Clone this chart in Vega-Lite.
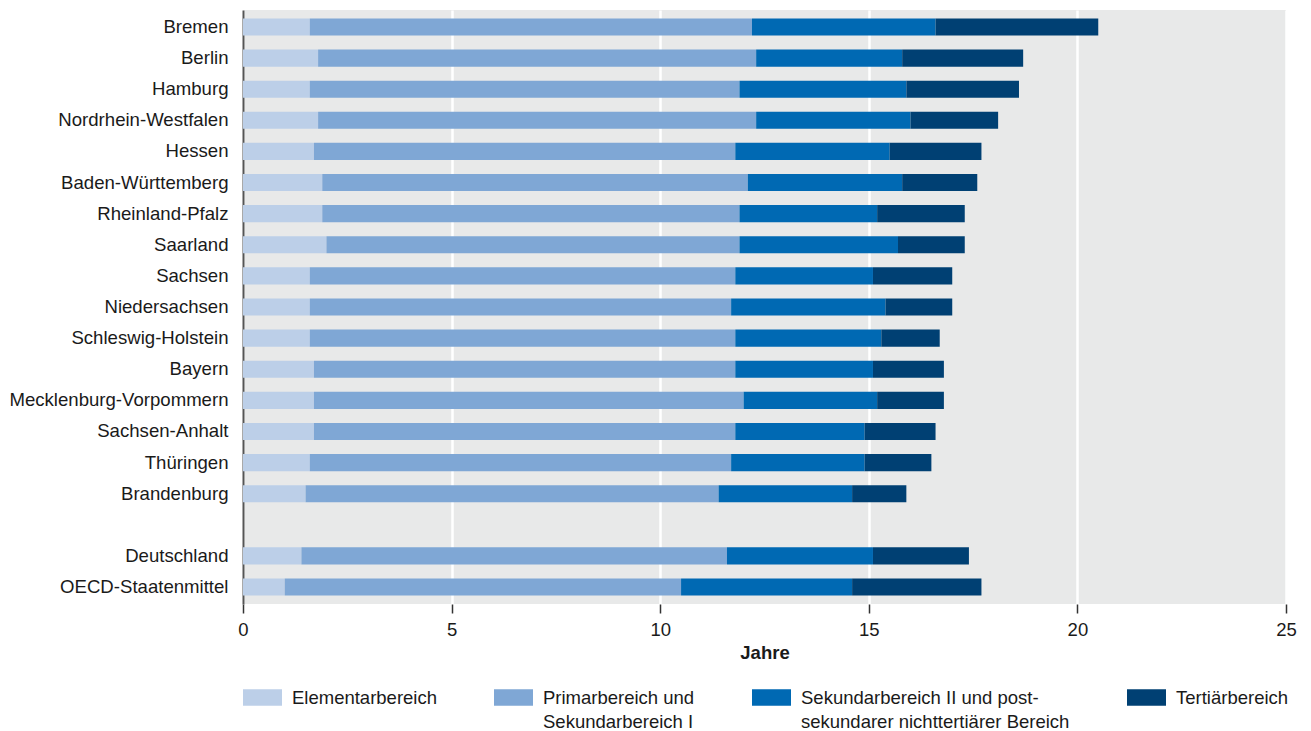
{
  "$schema": "https://vega.github.io/schema/vega-lite/v6.json",
  "autosize": {"type": "none"},
  "padding": {"left": 243, "top": 10, "right": 25, "bottom": 127},
  "width": 1043,
  "height": 594,
  "background": "white",
  "config": {
    "font": "Liberation Sans",
    "view": {"fill": "#e8e9e9", "stroke": null}
  },
  "data": {
    "values": [
      {"land": "Bremen", "bereich": "Elementarbereich", "jahre": 1.6},
      {"land": "Bremen", "bereich": "Primarbereich und Sekundarbereich I", "jahre": 10.6},
      {"land": "Bremen", "bereich": "Sekundarbereich II und postsekundarer nichttertiärer Bereich", "jahre": 4.4},
      {"land": "Bremen", "bereich": "Tertiärbereich", "jahre": 3.9},
      {"land": "Berlin", "bereich": "Elementarbereich", "jahre": 1.8},
      {"land": "Berlin", "bereich": "Primarbereich und Sekundarbereich I", "jahre": 10.5},
      {"land": "Berlin", "bereich": "Sekundarbereich II und postsekundarer nichttertiärer Bereich", "jahre": 3.5},
      {"land": "Berlin", "bereich": "Tertiärbereich", "jahre": 2.9},
      {"land": "Hamburg", "bereich": "Elementarbereich", "jahre": 1.6},
      {"land": "Hamburg", "bereich": "Primarbereich und Sekundarbereich I", "jahre": 10.3},
      {"land": "Hamburg", "bereich": "Sekundarbereich II und postsekundarer nichttertiärer Bereich", "jahre": 4.0},
      {"land": "Hamburg", "bereich": "Tertiärbereich", "jahre": 2.7},
      {"land": "Nordrhein-Westfalen", "bereich": "Elementarbereich", "jahre": 1.8},
      {"land": "Nordrhein-Westfalen", "bereich": "Primarbereich und Sekundarbereich I", "jahre": 10.5},
      {"land": "Nordrhein-Westfalen", "bereich": "Sekundarbereich II und postsekundarer nichttertiärer Bereich", "jahre": 3.7},
      {"land": "Nordrhein-Westfalen", "bereich": "Tertiärbereich", "jahre": 2.1},
      {"land": "Hessen", "bereich": "Elementarbereich", "jahre": 1.7},
      {"land": "Hessen", "bereich": "Primarbereich und Sekundarbereich I", "jahre": 10.1},
      {"land": "Hessen", "bereich": "Sekundarbereich II und postsekundarer nichttertiärer Bereich", "jahre": 3.7},
      {"land": "Hessen", "bereich": "Tertiärbereich", "jahre": 2.2},
      {"land": "Baden-Württemberg", "bereich": "Elementarbereich", "jahre": 1.9},
      {"land": "Baden-Württemberg", "bereich": "Primarbereich und Sekundarbereich I", "jahre": 10.2},
      {"land": "Baden-Württemberg", "bereich": "Sekundarbereich II und postsekundarer nichttertiärer Bereich", "jahre": 3.7},
      {"land": "Baden-Württemberg", "bereich": "Tertiärbereich", "jahre": 1.8},
      {"land": "Rheinland-Pfalz", "bereich": "Elementarbereich", "jahre": 1.9},
      {"land": "Rheinland-Pfalz", "bereich": "Primarbereich und Sekundarbereich I", "jahre": 10.0},
      {"land": "Rheinland-Pfalz", "bereich": "Sekundarbereich II und postsekundarer nichttertiärer Bereich", "jahre": 3.3},
      {"land": "Rheinland-Pfalz", "bereich": "Tertiärbereich", "jahre": 2.1},
      {"land": "Saarland", "bereich": "Elementarbereich", "jahre": 2.0},
      {"land": "Saarland", "bereich": "Primarbereich und Sekundarbereich I", "jahre": 9.9},
      {"land": "Saarland", "bereich": "Sekundarbereich II und postsekundarer nichttertiärer Bereich", "jahre": 3.8},
      {"land": "Saarland", "bereich": "Tertiärbereich", "jahre": 1.6},
      {"land": "Sachsen", "bereich": "Elementarbereich", "jahre": 1.6},
      {"land": "Sachsen", "bereich": "Primarbereich und Sekundarbereich I", "jahre": 10.2},
      {"land": "Sachsen", "bereich": "Sekundarbereich II und postsekundarer nichttertiärer Bereich", "jahre": 3.3},
      {"land": "Sachsen", "bereich": "Tertiärbereich", "jahre": 1.9},
      {"land": "Niedersachsen", "bereich": "Elementarbereich", "jahre": 1.6},
      {"land": "Niedersachsen", "bereich": "Primarbereich und Sekundarbereich I", "jahre": 10.1},
      {"land": "Niedersachsen", "bereich": "Sekundarbereich II und postsekundarer nichttertiärer Bereich", "jahre": 3.7},
      {"land": "Niedersachsen", "bereich": "Tertiärbereich", "jahre": 1.6},
      {"land": "Schleswig-Holstein", "bereich": "Elementarbereich", "jahre": 1.6},
      {"land": "Schleswig-Holstein", "bereich": "Primarbereich und Sekundarbereich I", "jahre": 10.2},
      {"land": "Schleswig-Holstein", "bereich": "Sekundarbereich II und postsekundarer nichttertiärer Bereich", "jahre": 3.5},
      {"land": "Schleswig-Holstein", "bereich": "Tertiärbereich", "jahre": 1.4},
      {"land": "Bayern", "bereich": "Elementarbereich", "jahre": 1.7},
      {"land": "Bayern", "bereich": "Primarbereich und Sekundarbereich I", "jahre": 10.1},
      {"land": "Bayern", "bereich": "Sekundarbereich II und postsekundarer nichttertiärer Bereich", "jahre": 3.3},
      {"land": "Bayern", "bereich": "Tertiärbereich", "jahre": 1.7},
      {"land": "Mecklenburg-Vorpommern", "bereich": "Elementarbereich", "jahre": 1.7},
      {"land": "Mecklenburg-Vorpommern", "bereich": "Primarbereich und Sekundarbereich I", "jahre": 10.3},
      {"land": "Mecklenburg-Vorpommern", "bereich": "Sekundarbereich II und postsekundarer nichttertiärer Bereich", "jahre": 3.2},
      {"land": "Mecklenburg-Vorpommern", "bereich": "Tertiärbereich", "jahre": 1.6},
      {"land": "Sachsen-Anhalt", "bereich": "Elementarbereich", "jahre": 1.7},
      {"land": "Sachsen-Anhalt", "bereich": "Primarbereich und Sekundarbereich I", "jahre": 10.1},
      {"land": "Sachsen-Anhalt", "bereich": "Sekundarbereich II und postsekundarer nichttertiärer Bereich", "jahre": 3.1},
      {"land": "Sachsen-Anhalt", "bereich": "Tertiärbereich", "jahre": 1.7},
      {"land": "Thüringen", "bereich": "Elementarbereich", "jahre": 1.6},
      {"land": "Thüringen", "bereich": "Primarbereich und Sekundarbereich I", "jahre": 10.1},
      {"land": "Thüringen", "bereich": "Sekundarbereich II und postsekundarer nichttertiärer Bereich", "jahre": 3.2},
      {"land": "Thüringen", "bereich": "Tertiärbereich", "jahre": 1.6},
      {"land": "Brandenburg", "bereich": "Elementarbereich", "jahre": 1.5},
      {"land": "Brandenburg", "bereich": "Primarbereich und Sekundarbereich I", "jahre": 9.9},
      {"land": "Brandenburg", "bereich": "Sekundarbereich II und postsekundarer nichttertiärer Bereich", "jahre": 3.2},
      {"land": "Brandenburg", "bereich": "Tertiärbereich", "jahre": 1.3},
      {"land": "Deutschland", "bereich": "Elementarbereich", "jahre": 1.4},
      {"land": "Deutschland", "bereich": "Primarbereich und Sekundarbereich I", "jahre": 10.2},
      {"land": "Deutschland", "bereich": "Sekundarbereich II und postsekundarer nichttertiärer Bereich", "jahre": 3.5},
      {"land": "Deutschland", "bereich": "Tertiärbereich", "jahre": 2.3},
      {"land": "OECD-Staatenmittel", "bereich": "Elementarbereich", "jahre": 1.0},
      {"land": "OECD-Staatenmittel", "bereich": "Primarbereich und Sekundarbereich I", "jahre": 9.5},
      {"land": "OECD-Staatenmittel", "bereich": "Sekundarbereich II und postsekundarer nichttertiärer Bereich", "jahre": 4.1},
      {"land": "OECD-Staatenmittel", "bereich": "Tertiärbereich", "jahre": 3.1}
    ]
  },
  "mark": {"type": "bar"},
  "encoding": {
    "y": {
      "field": "land",
      "type": "nominal",
      "scale": {
        "domain": ["Bremen", "Berlin", "Hamburg", "Nordrhein-Westfalen", "Hessen", "Baden-Württemberg", "Rheinland-Pfalz", "Saarland", "Sachsen", "Niedersachsen", "Schleswig-Holstein", "Bayern", "Mecklenburg-Vorpommern", "Sachsen-Anhalt", "Thüringen", "Brandenburg", " ", "Deutschland", "OECD-Staatenmittel"],
        "paddingInner": 0.45,
        "paddingOuter": 0.27
      },
      "axis": {
        "title": null,
        "ticks": false,
        "labelFontSize": 18.6,
        "labelColor": "#1a1a1a",
        "labelPadding": 15,
        "labelLimit": 400,
        "domainColor": "#555555",
        "domainWidth": 2,
        "grid": false
      }
    },
    "x": {
      "field": "jahre",
      "type": "quantitative",
      "stack": "zero",
      "scale": {"domain": [0, 25], "nice": false},
      "axis": {
        "title": "Jahre",
        "titleFontSize": 18.5,
        "titleFontWeight": "bold",
        "titleColor": "#1a1a1a",
        "titlePadding": 5,
        "values": [0, 5, 10, 15, 20, 25],
        "labelFontSize": 18.5,
        "labelColor": "#1a1a1a",
        "labelPadding": 7,
        "labelFlush": false,
        "tickSize": 9,
        "tickColor": "#333333",
        "tickWidth": 1.5,
        "domain": false,
        "grid": true,
        "gridColor": "white",
        "gridWidth": 2.5
      }
    },
    "color": {
      "field": "bereich",
      "type": "nominal",
      "scale": {
        "domain": ["Elementarbereich", "Primarbereich und Sekundarbereich I", "Sekundarbereich II und postsekundarer nichttertiärer Bereich", "Tertiärbereich"],
        "range": ["#bccfe8", "#7fa7d5", "#0069b3", "#004073"]
      },
      "legend": {
        "title": null,
        "orient": "none",
        "legendX": 0,
        "legendY": 668,
        "direction": "horizontal",
        "columns": 4,
        "columnPadding": 57,
        "padding": 0,
        "symbolType": "M-1,-0.428H1V0.428H-1Z",
        "symbolSize": 1521,
        "symbolStrokeWidth": 0,
        "symbolOpacity": 1,
        "labelFontSize": 18.5,
        "labelColor": "#1a1a1a",
        "labelOffset": 10,
        "labelLimit": 400,
        "labelBaseline": "middle",
        "labelExpr": "datum.label == 'Primarbereich und Sekundarbereich I' ? ['Primarbereich und', 'Sekundarbereich I'] : datum.label == 'Sekundarbereich II und postsekundarer nichttertiärer Bereich' ? ['Sekundarbereich II und post-', 'sekundarer nichttertiärer Bereich'] : [datum.label, '']",
        "encode": {"labels": {"update": {"lineHeight": {"value": 24}}}}
      }
    }
  }
}
